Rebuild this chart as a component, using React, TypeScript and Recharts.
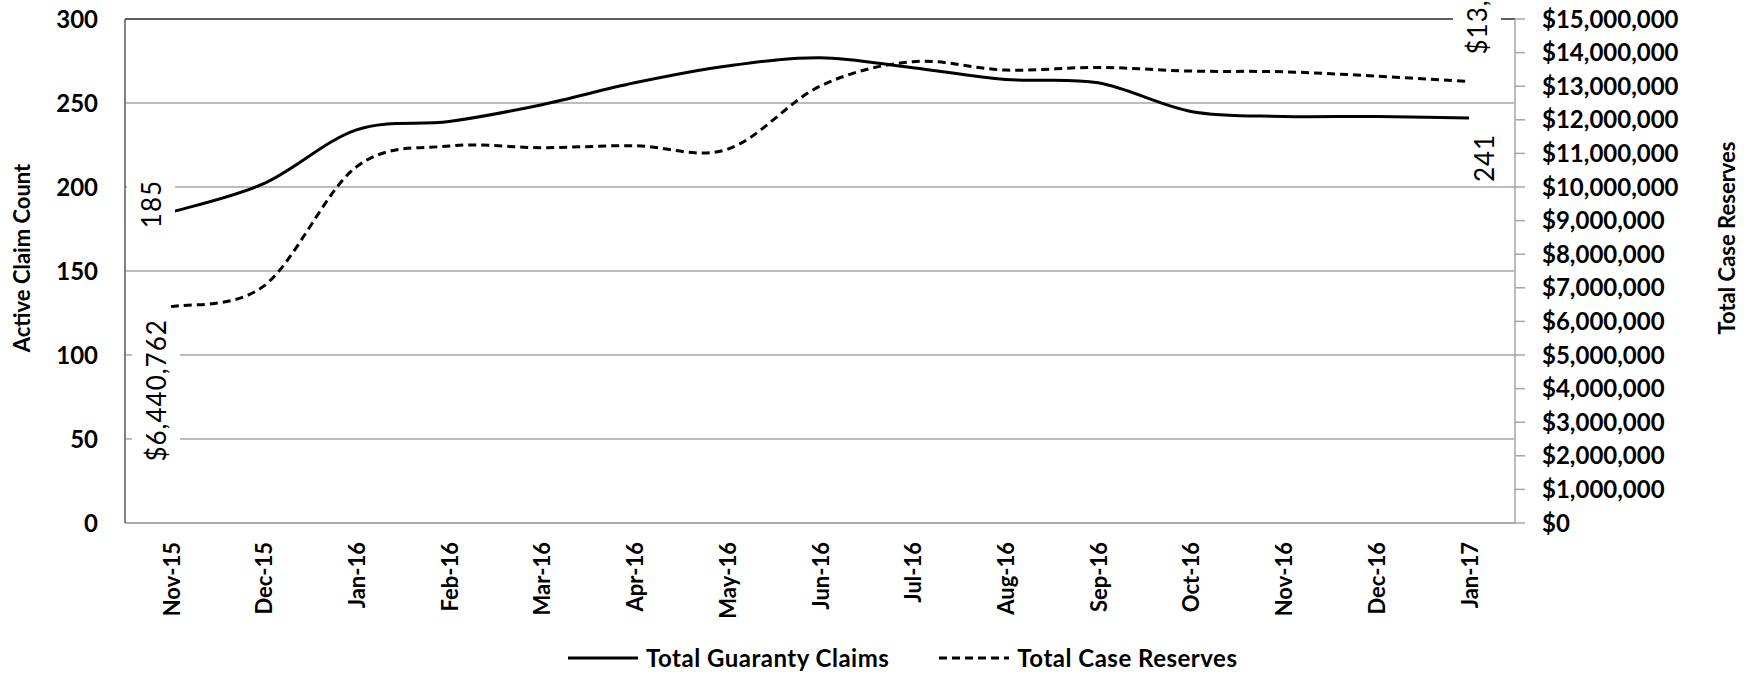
import React from 'react';
import {
  LineChart,
  Line,
  XAxis,
  YAxis,
  CartesianGrid,
  Legend,
  LabelList,
  ReferenceLine,
} from 'recharts';

const months = [
  'Nov-15', 'Dec-15', 'Jan-16', 'Feb-16', 'Mar-16', 'Apr-16', 'May-16', 'Jun-16',
  'Jul-16', 'Aug-16', 'Sep-16', 'Oct-16', 'Nov-16', 'Dec-16', 'Jan-17',
];
const claims = [185, 202, 234, 239, 249, 262, 272, 277, 271, 264, 262, 245, 242, 242, 241];
const reserves = [
  6440762, 7050000, 10600000, 11220000, 11170000, 11230000, 11120000, 13000000,
  13730000, 13480000, 13560000, 13450000, 13430000, 13300000, 13140000,
];
const claimTicks = [0, 50, 100, 150, 200, 250, 300];
const reserveTicks = [
  0, 1000000, 2000000, 3000000, 4000000, 5000000, 6000000, 7000000, 8000000,
  9000000, 10000000, 11000000, 12000000, 13000000, 14000000, 15000000,
];

const data = months.map((month, i) => ({
  month,
  claims: claims[i],
  reserves: reserves[i],
}));

const FONT = 'Lato, "Open Sans", sans-serif';

const money = (v: number) => '$' + Math.round(v).toLocaleString('en-US');

// excel's "smoothed line" is a catmull-rom spline through every point
const excelSmooth = (context: any) => {
  let pts: number[][] = [];
  return {
    areaStart() {},
    areaEnd() {},
    lineStart() {
      pts = [];
    },
    point(x: number, y: number) {
      pts.push([+x, +y]);
    },
    lineEnd() {
      if (!pts.length) return;
      context.moveTo(pts[0][0], pts[0][1]);
      for (let i = 0; i < pts.length - 1; i++) {
        const p0 = pts[i - 1] || pts[i];
        const p1 = pts[i];
        const p2 = pts[i + 1];
        const p3 = pts[i + 2] || p2;
        context.bezierCurveTo(
          p1[0] + (p2[0] - p0[0]) / 6,
          p1[1] + (p2[1] - p0[1]) / 6,
          p2[0] - (p3[0] - p1[0]) / 6,
          p2[1] - (p3[1] - p1[1]) / 6,
          p2[0],
          p2[1]
        );
      }
    },
  };
};

// rotated data label on first / last point only, white box like excel
const endLabels =
  (fmt: (v: number) => string, first: number[], last: number[]) => (props: any) => {
    const vb = props.viewBox || {};
    const x = props.x ?? vb.x;
    const y = props.y ?? vb.y;
    const { index, value } = props;
    const off = index === 0 ? first : index === months.length - 1 ? last : null;
    if (!off || x == null || y == null) return null;
    const text = fmt(value);
    const cx = x + off[0];
    const by = y + off[1];
    const len = text.length * 14.6;
    return (
      <g>
        <rect x={cx - 24} y={by - len - 3} width={48} height={len + 6} fill="#fff" />
        <text
          transform={`translate(${cx},${by}) rotate(-90)`}
          textAnchor="start"
          dominantBaseline="central"
          fontFamily={FONT}
          fontSize={26}
          letterSpacing={1}
          fill="#000"
        >
          {text}
        </text>
      </g>
    );
  };

const MonthTick = (props: any) => {
  const { x, y, payload } = props;
  return (
    <text
      transform={`translate(${x},${y}) rotate(-90)`}
      textAnchor="end"
      dominantBaseline="central"
      fontFamily={FONT}
      fontWeight={700}
      fontSize={22}
      fill="#000"
    >
      {payload.value}
    </text>
  );
};

const axisTitle = (text: string, dx: number, cy: number) => (props: any) => {
  const vb = props.viewBox || {};
  return (
    <text
      transform={`translate(${vb.x + dx},${cy}) rotate(-90)`}
      textAnchor="middle"
      dominantBaseline="central"
      fontFamily={FONT}
      fontWeight={700}
      fontSize={22}
      fill="#000"
    >
      {text}
    </text>
  );
};

const LegendBox = (props: any) => {
  const items = props.payload || [];
  return (
    <div
      style={{
        display: 'flex',
        alignItems: 'center',
        fontFamily: FONT,
        fontWeight: 700,
        fontSize: 24,
        letterSpacing: 0.5,
        lineHeight: '28px',
        color: '#000',
        whiteSpace: 'nowrap',
      }}
    >
      {items.map((it: any, i: number) => (
        <div key={i} style={{ display: 'flex', alignItems: 'center', marginLeft: i ? 50 : 0 }}>
          <svg width={70} height={6}>
            <line
              x1={0}
              y1={3}
              x2={70}
              y2={3}
              stroke="#000"
              strokeWidth={3}
              strokeDasharray={it.payload?.strokeDasharray}
            />
          </svg>
          <span style={{ marginLeft: 8 }}>{it.value}</span>
        </div>
      ))}
    </div>
  );
};

const tickFont = { fill: '#000', fontSize: 24, fontWeight: 700, fontFamily: FONT };

export default function App() {
  return (
    <div style={{ position: 'absolute', left: 0, top: 0, background: '#fff' }}>
      <LineChart
        width={1749}
        height={675}
        data={data}
        margin={{ top: 19, right: 0, bottom: 0, left: 0 }}
      >
        <CartesianGrid
          yAxisId="left"
          vertical={false}
          stroke="#a6a6a6"
          strokeWidth={1.5}
        />
        <XAxis
          dataKey="month"
          height={152}
          padding={{ left: 46, right: 46 }}
          axisLine={{ stroke: '#a6a6a6', strokeWidth: 1.5 }}
          tickLine={false}
          tickSize={0}
          tickMargin={19}
          interval={0}
          tick={<MonthTick />}
        />
        <YAxis
          yAxisId="left"
          width={125}
          domain={[0, 300]}
          ticks={claimTicks}
          interval={0}
          axisLine={{ stroke: '#595959', strokeWidth: 1.5 }}
          tickLine={false}
          tickSize={0}
          tickMargin={27}
          tick={tickFont}
          label={{ content: axisTitle('Active Claim Count', 21, 258) }}
        />
        <YAxis
          yAxisId="right"
          orientation="right"
          width={234}
          domain={[0, 15000000]}
          ticks={reserveTicks}
          interval={0}
          axisLine={{ stroke: '#a6a6a6', strokeWidth: 1.5 }}
          tickLine={{ stroke: '#a6a6a6', strokeWidth: 1.5 }}
          tickSize={10}
          tickMargin={17}
          tick={tickFont}
          tickFormatter={money}
          label={{ content: axisTitle('Total Case Reserves', 211, 238) }}
        />
        <ReferenceLine yAxisId="left" y={300} stroke="#404040" strokeWidth={1.5} />
        <Legend
          layout="horizontal"
          verticalAlign="middle"
          align="center"
          itemSorter="dataKey"
          wrapperStyle={{ top: 644, left: 568, width: 720 }}
          content={<LegendBox />}
        />
        <Line
          yAxisId="left"
          dataKey="claims"
          name="Total Guaranty Claims"
          type={excelSmooth as any}
          stroke="#000"
          strokeWidth={3}
          dot={false}
          activeDot={false}
          isAnimationActive={false}
        >
          <LabelList dataKey="claims" content={endLabels(String, [-20, 16], [15, 64])} />
        </Line>
        <Line
          yAxisId="right"
          dataKey="reserves"
          name="Total Case Reserves"
          type={excelSmooth as any}
          stroke="#000"
          strokeWidth={3}
          strokeDasharray="8 5"
          dot={false}
          activeDot={false}
          isAnimationActive={false}
        >
          <LabelList dataKey="reserves" content={endLabels(money, [-15, 155], [8, -27])} />
        </Line>
      </LineChart>
    </div>
  );
}
